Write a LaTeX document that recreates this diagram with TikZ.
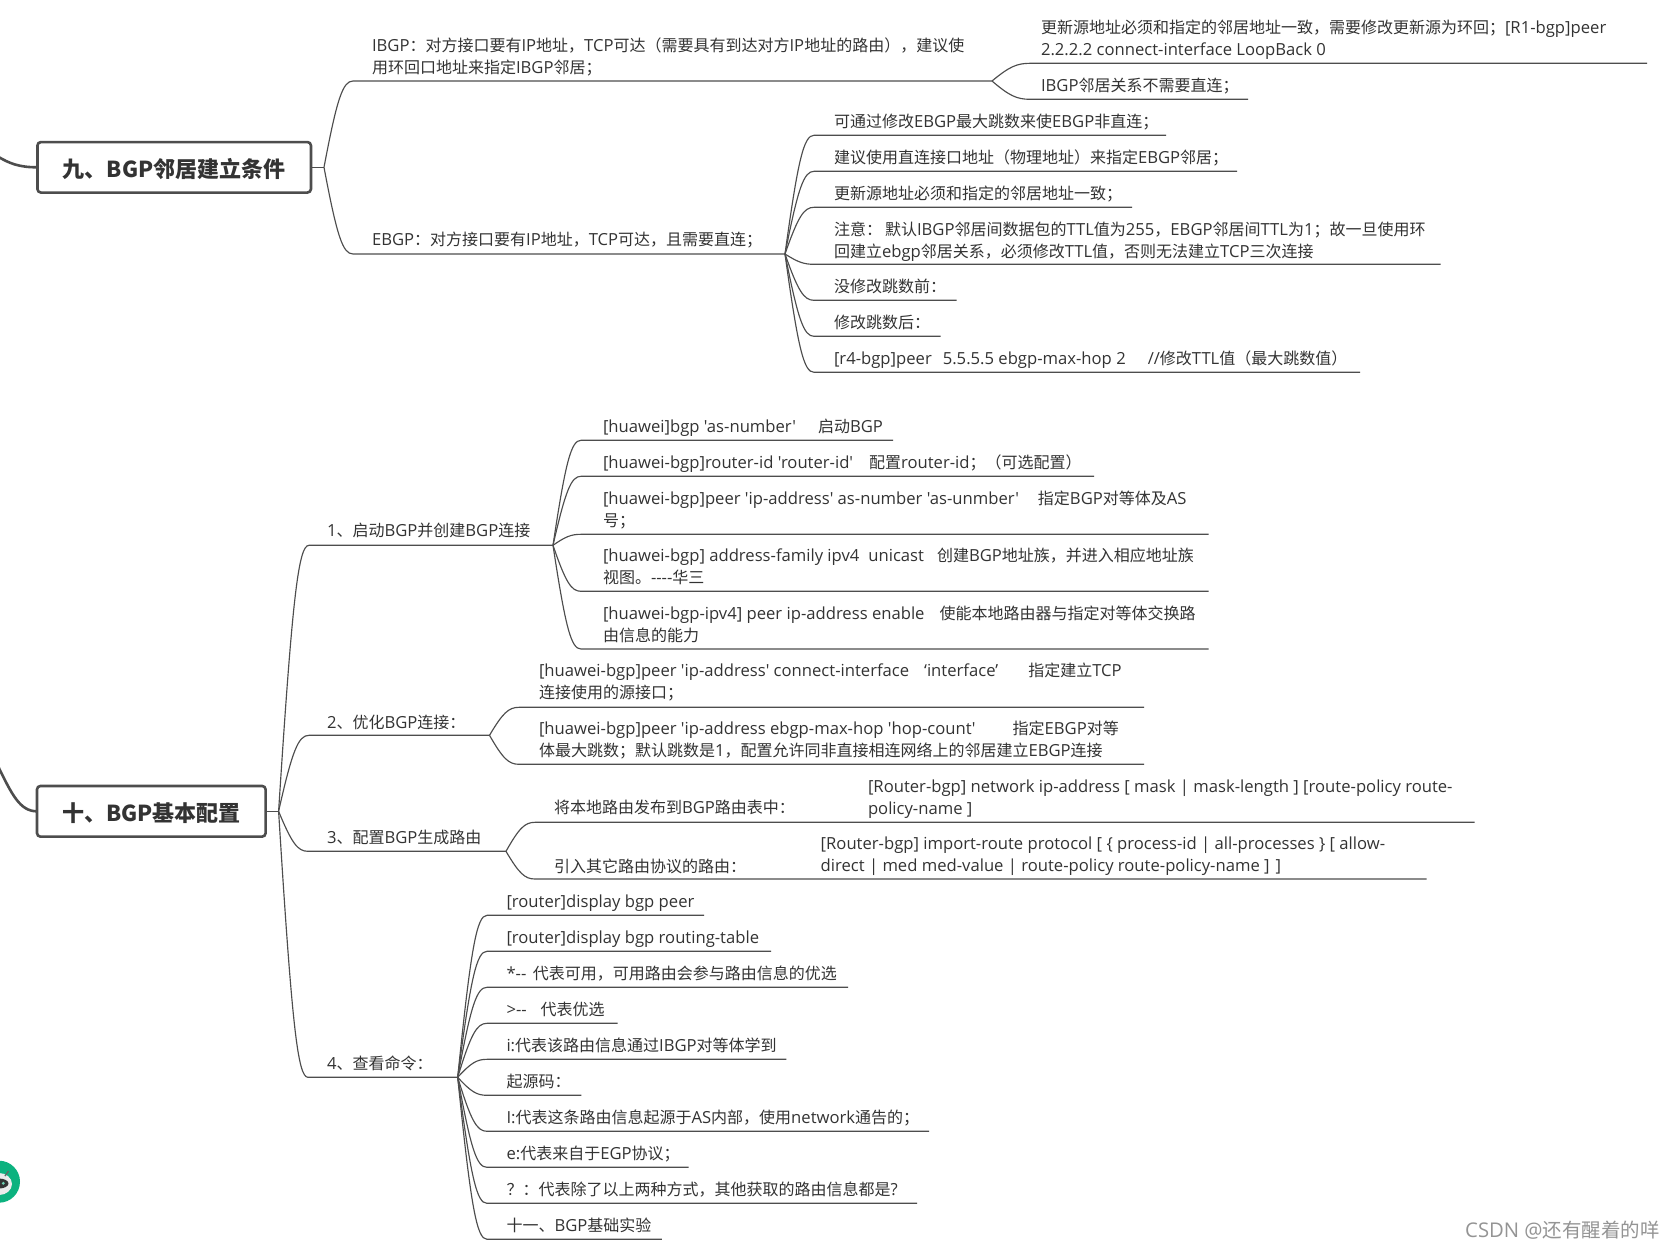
\documentclass[tikz,border=0pt]{standalone}
\usepackage{fontspec}
\usetikzlibrary{calc}
\newfontfamily\latinf[Scale=1.04]{Open Sans}
\newfontfamily\cjkf{Noto Sans CJK SC}
\setmainfont{Open Sans}
\newXeTeXintercharclass\cjkclass
\newcount\ci
\ci="3000 \loop \XeTeXcharclass\ci=\cjkclass \advance\ci 1 \ifnum\ci<"3040 \repeat
\ci="4E00 \loop \XeTeXcharclass\ci=\cjkclass \advance\ci 1 \ifnum\ci<"A000 \repeat
\ci="FF00 \loop \XeTeXcharclass\ci=\cjkclass \advance\ci 1 \ifnum\ci<"FFF0 \repeat
\XeTeXinterchartoks 0 \cjkclass={\cjkf}
\XeTeXinterchartoks \cjkclass 0 ={\latinf}
\XeTeXinterchartoks 4095 \cjkclass={\cjkf}
\XeTeXinterchartoks 4095 0 ={\latinf}
\definecolor{ink}{HTML}{333333}
\definecolor{wire}{HTML}{4D4D4D}
\definecolor{botgreen}{HTML}{0CB27F}
\newcommand\mixon{\XeTeXinterchartokenstate=1\relax}
\newcommand\mixoff{\XeTeXinterchartokenstate=0\relax}
\newcommand\bodyfont{\mixon\fontsize{16}{21.6}\selectfont\latinf}
\newcommand\headfont{\mixoff\fontsize{22}{26}\selectfont\cjkf\bfseries}
\newcommand\markfont{\mixon\fontsize{19.5}{24}\selectfont\latinf}
\tikzset{
  txt/.style={anchor=north west,inner sep=0pt,outer sep=0pt,align=left,text=ink,font=\bodyfont},
  link/.style={draw=wire,line width=1.15pt},
  thickfeed/.style={draw=wire,line width=2.6pt},
  branch/.style={to path={let \p1=(\tikztostart),\p2=(\tikztotarget) in
     .. controls ({\x1+.45*(\x2-\x1)},{\y1+.8*(\y2-\y1)}) and ({\x1+.65*(\x2-\x1)},\y2) .. (\tikztotarget)}},
  title/.style={draw=wire,line width=2.6pt,fill=white,rounded corners=3.5pt,inner sep=0pt,outer sep=0pt,text=ink,font=\headfont}
}
\newcommand\gapp[1]{\hspace{#1pt}}
\newcommand\firstln{\rule{0pt}{15pt}}
\newcommand\leaf[8]{%
  \coordinate (#1s) at (#3,#4);
  \coordinate (#1e) at (#5,#4);
  \node[txt] (#1) at (#6,{#7-8.6}) {\firstln #8};
  \draw[link,branch] (#2) to (#1s) -- (#1e);
}
\begin{document}
\begin{tikzpicture}[x=1pt,y=-1pt]
\useasboundingbox (0,0) rectangle (1673,1248);
\fill[white] (0,0) rectangle (1673,1248);
% feeds
\coordinate (f9) at (-3,156);
\coordinate (f10) at (-3,764);
\node[title,minimum width=273.5pt,minimum height=50.5pt] (box9) at (174.2,167.3) {\raisebox{-2pt}[\height][\depth]{九、BGP邻居建立条件}};
\node[title,minimum width=228.6pt,minimum height=50.7pt] (box10) at (151.3,811.3) {\raisebox{-2pt}[\height][\depth]{十、BGP基本配置}};
\draw[thickfeed] (f9) .. controls (10,164) and (20,167.3) .. (box9.west);
\draw[thickfeed] (f10) .. controls (12,795) and (20,811.3) .. (box10.west);
\coordinate (j9) at (324,167.3);
\coordinate (j10) at (278.6,811.3);
\draw[link] (box9.east) -- (j9);
\draw[link] (box10.east) -- (j10);
% section nine
\leaf{ib}{j9}{353}{81}{992}{372}{45}{IBGP：对方接口要有IP地址，TCP可达（需要具有到达对方IP地址的路由），建议使\\用环回口地址来指定IBGP邻居；}
\leaf{eb}{j9}{353}{254}{785}{372}{239.3}{EBGP：对方接口要有IP地址，TCP可达，且需要直连；}
\leaf{iba}{ibe}{1030}{63.3}{1647}{1041}{27.4}{更新源地址必须和指定的邻居地址一致，需要修改更新源为环回；[R1-bgp]peer\\2.2.2.2 connect-interface LoopBack 0}
\leaf{ibb}{ibe}{1030}{99.3}{1248}{1041}{85}{IBGP邻居关系不需要直连；}
\leaf{eba}{ebe}{814}{135.3}{1166}{834}{121}{可通过修改EBGP最大跳数来使EBGP非直连；}
\leaf{ebb}{ebe}{814}{171.3}{1237}{834}{157}{建议使用直连接口地址（物理地址）来指定EBGP邻居；}
\leaf{ebc}{ebe}{814}{207.3}{1132}{834}{193}{更新源地址必须和指定的邻居地址一致；}
\leaf{ebd}{ebe}{814}{264.3}{1440.6}{834}{229.3}{注意：\gapp{3}默认IBGP邻居间数据包的TTL值为255，EBGP邻居间TTL为1；故一旦使用环\\回建立ebgp邻居关系，必须修改TTL值，否则无法建立TCP三次连接}
\leaf{ebf}{ebe}{814}{300.3}{956.5}{834}{286}{没修改跳数前：}
\leaf{ebg}{ebe}{814}{336.3}{940.6}{834}{322}{修改跳数后：}
\leaf{ebh}{ebe}{814}{372.3}{1360}{834}{358}{[r4-bgp]peer\gapp{11}5.5.5.5 ebgp-max-hop 2\gapp{22}//修改TTL值（最大跳数值）}
% section ten
\leaf{aa}{j10}{309}{545.3}{553}{327}{530}{1、启动BGP并创建BGP连接}
\leaf{ab}{j10}{309}{735.3}{489.5}{327}{721.7}{2、优化BGP连接：}
\leaf{ac}{j10}{308}{851.3}{506}{327}{836.7}{3、配置BGP生成路由}
\leaf{ad}{j10}{308}{1077.3}{457.7}{327}{1063.3}{4、查看命令：}
\leaf{aaa}{aae}{581}{440.3}{893}{603}{426}{[huawei]bgp 'as-number'\gapp{22}启动BGP}
\leaf{aab}{aae}{581}{476.3}{1094}{603}{462}{[huawei-bgp]router-id 'router-id'\gapp{16}配置router-id；（可选配置）}
\leaf{aac}{aae}{581}{534.3}{1208.7}{603}{498}{[huawei-bgp]peer 'ip-address' as-number 'as-unmber'\gapp{19}指定BGP对等体及AS\\号；}
\leaf{aad}{aae}{581}{591.3}{1208.7}{603}{555}{[huawei-bgp] address-family ipv4\gapp{9}unicast\gapp{13}创建BGP地址族，并进入相应地址族\\视图。----华三}
\leaf{aaf}{aae}{581}{649}{1208.7}{603}{613}{[huawei-bgp-ipv4] peer ip-address enable\gapp{15}使能本地路由器与指定对等体交换路\\由信息的能力}
\leaf{aba}{abe}{519}{707.3}{1144}{539}{670}{[huawei-bgp]peer 'ip-address' connect-interface\gapp{15}‘interface’\gapp{30}指定建立TCP\\连接使用的源接口；}
\leaf{abb}{abe}{519}{764.3}{1144}{539}{728.3}{[huawei-bgp]peer 'ip-address ebgp-max-hop 'hop-count'\gapp{37}指定EBGP对等\\体最大跳数；默认跳数是1，配置允许同非直接相连网络上的邻居建立EBGP连接}
\leaf{aca}{ace}{535}{822.3}{1474.5}{554}{807.3}{将本地路由发布到BGP路由表中：}
\leaf{acb}{ace}{535}{879}{1426.5}{554}{866}{引入其它路由协议的路由：}
\node[txt] (acat) at (868,{786-8.6}) {\firstln [Router-bgp] network ip-address [ mask | mask-length ] [route-policy route-\\policy-name ]};
\node[txt] (acbt) at (820.7,{843.3-8.6}) {\firstln [Router-bgp] import-route protocol [ \{ process-id | all-processes \} [ allow-\\direct | med med-value | route-policy route-policy-name ]\gapp{6}]};
\leaf{ada}{ade}{487}{915.3}{704}{506.5}{901.3}{[router]display bgp peer}
\leaf{adb}{ade}{487}{951.3}{771}{506.5}{937.3}{[router]display bgp routing-table}
\leaf{adc}{ade}{487}{987.3}{848}{506.5}{973.3}{*--\gapp{6.5}代表可用，可用路由会参与路由信息的优选}
\leaf{add}{ade}{487}{1023.3}{617.5}{506.5}{1009.3}{>--\gapp{14}代表优选}
\leaf{adf}{ade}{487}{1059.3}{786.4}{506.5}{1045.3}{i:代表该路由信息通过IBGP对等体学到}
\leaf{adg}{ade}{487}{1095.3}{581.4}{506.5}{1081.3}{起源码：}
\leaf{adh}{ade}{487}{1131.3}{929}{506.5}{1117.3}{I:代表这条路由信息起源于AS内部，使用network通告的；}
\leaf{adi}{ade}{487}{1167.3}{688.6}{506.5}{1153.3}{e:代表来自于EGP协议；}
\leaf{adj}{ade}{487}{1203.3}{917}{506.5}{1189.3}{？：代表除了以上两种方式，其他获取的路由信息都是?}
\leaf{adk}{ade}{487}{1239.3}{661.8}{506.5}{1225.3}{十一、BGP基础实验}
% floating badge
\fill[botgreen] (-1,1181.7) circle (21);
\fill[white!92!black] (-1,1184) ellipse (13 and 11);
\fill[black!80] (-1,1183.5) ellipse (9.5 and 5);
\fill[botgreen!60!white] (3.3,1183.3) circle (1.6);
\draw[black!60,line width=1.3pt] (5,1176) -- (8.5,1171);
% watermark
\node[anchor=base west,inner sep=0pt,text=black!42,font=\markfont] (mark) at (1465,1237) {CSDN @还有醒着的咩};
\end{tikzpicture}
\end{document}
